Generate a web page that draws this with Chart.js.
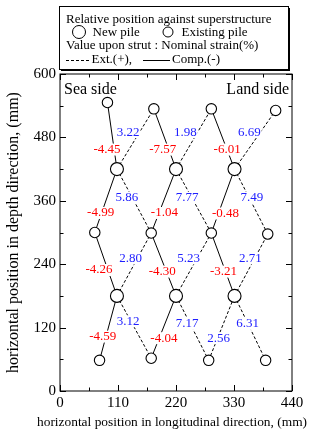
<!DOCTYPE html>
<html>
<head>
<meta charset="utf-8">
<script src="https://cdn.jsdelivr.net/npm/chart.js@4.4.0/dist/chart.umd.min.js"></script>
<style>
  html, body { margin: 0; padding: 0; background: #fff; }
  canvas { display: block; }
</style>
</head>
<body>
<canvas id="chart" width="321" height="432"></canvas>
<script>
const xTicks = [0, 110, 220, 330, 440];
const yTicks = [0, 120, 240, 360, 480, 600];

// piles, row by row from the top; "new" piles are the big circles
const pileX = [90, 178, 287, 409, 108, 220, 331, 66, 173, 287, 394, 108, 220, 331, 75, 173, 282, 390];
const pileY = [546, 534, 534, 531, 420, 420, 420, 300, 299, 299, 297, 180, 180, 180, 58, 62, 58, 58];
const pileKind = [
  "existing", "existing", "existing", "existing",
  "new", "new", "new",
  "existing", "existing", "existing", "existing",
  "new", "new", "new",
  "existing", "existing", "existing", "existing"
];

// struts between piles (index into the pile arrays) and nominal strain (%)
const strutFrom = [0, 4, 1, 5, 2, 6, 4, 4, 8, 5, 9, 6, 7, 11, 8, 12, 9, 13, 11, 11, 15, 12, 16, 13];
const strutTo   = [4, 1, 5, 2, 6, 3, 7, 8, 5, 9, 6, 10, 11, 8, 12, 9, 13, 10, 14, 15, 12, 16, 13, 17];
const strainValues = [
  -4.45, 3.22, -7.57, 1.98, -6.01, 6.69,
  -4.99, 5.86, -1.04, 7.77, -0.48, 7.49,
  -4.26, 2.80, -4.30, 5.23, -3.21, 2.71,
  -4.59, 3.12, -4.04, 7.17, 2.56, 6.31
];
// where each strain value is written, in data units
const strainLabelX = [
  89, 129, 195, 238, 317, 359,
  77, 127, 198, 241, 314, 364,
  74, 134, 194, 244, 310, 361,
  81, 129, 197, 241, 301, 356
];
const strainLabelY = [
  457, 490, 457, 490, 457, 490,
  337, 366, 337, 366, 336, 366,
  229, 251, 226, 251, 226, 251,
  103, 132, 100, 127, 100, 127
];

const serif = "'Liberation Serif', 'Times New Roman', serif";
const RED = "#ff0000";
const BLUE = "#2020ff";
const xTitle = "horizontal position in longitudinal direction, (mm)";
const yTitle = "horizontal position in depth direction, (mm)";

const strutSets = strutFrom.map((f, i) => ({
  data: [
    { x: pileX[f], y: pileY[f] },
    { x: pileX[strutTo[i]], y: pileY[strutTo[i]] }
  ],
  showLine: true,
  borderColor: "#000",
  borderWidth: 1,
  borderDash: strainValues[i] > 0 ? [3, 2] : [],
  pointRadius: 0,
  order: 3
}));

function pilesOf(kind) {
  return pileX
    .map((x, i) => ({ x: x, y: pileY[i], kind: pileKind[i] }))
    .filter(p => p.kind === kind);
}

const pileSets = [
  {
    data: pilesOf("new"),
    pointRadius: 6.5,
    pointBackgroundColor: "#fff",
    pointBorderColor: "#000",
    pointBorderWidth: 1.1,
    order: 1
  },
  {
    data: pilesOf("existing"),
    pointRadius: 5.2,
    pointBackgroundColor: "#fff",
    pointBorderColor: "#000",
    pointBorderWidth: 1.1,
    order: 1
  }
];

// strain values sit on white patches that break the strut lines
const strainLabels = {
  id: "strainLabels",
  beforeDatasetDraw(chart, args) {
    if (args.index !== 0) return;
    const ctx = chart.ctx;
    const xs = chart.scales.x, ys = chart.scales.y;
    ctx.save();
    ctx.font = "13px " + serif;
    ctx.textAlign = "center";
    ctx.textBaseline = "middle";
    strainValues.forEach((v, i) => {
      const px = xs.getPixelForValue(strainLabelX[i]);
      const py = ys.getPixelForValue(strainLabelY[i]);
      const t = v.toFixed(2);
      const w = ctx.measureText(t).width;
      ctx.fillStyle = "#fff";
      ctx.fillRect(px - w / 2 - 1, py - 6, w + 2, 12);
      ctx.fillStyle = v < 0 ? RED : BLUE;
      ctx.fillText(t, px, py);
    });
    ctx.restore();
  }
};

const decor = {
  id: "decor",
  beforeDraw(chart) {
    const ctx = chart.ctx;
    ctx.save();
    ctx.fillStyle = "#fff";
    ctx.fillRect(0, 0, chart.width, chart.height);
    ctx.restore();
  },
  afterDraw(chart) {
    const ctx = chart.ctx;
    const a = chart.chartArea;
    const xs = chart.scales.x, ys = chart.scales.y;
    ctx.save();
    ctx.strokeStyle = "#000";
    ctx.lineWidth = 1;
    ctx.strokeRect(a.left, a.top, a.right - a.left, a.bottom - a.top);

    // inward ticks on all four sides
    ctx.beginPath();
    const xAll = [];
    xTicks.forEach((v, i) => {
      xAll.push([v, 6]);
      if (i < xTicks.length - 1) xAll.push([(v + xTicks[i + 1]) / 2, 3.5]);
    });
    xAll.forEach(([v, len]) => {
      const px = Math.round(xs.getPixelForValue(v)) + 0.5;
      ctx.moveTo(px, a.bottom); ctx.lineTo(px, a.bottom - len);
      ctx.moveTo(px, a.top); ctx.lineTo(px, a.top + len);
    });
    const yAll = [];
    yTicks.forEach((v, i) => {
      yAll.push([v, 6]);
      if (i < yTicks.length - 1) yAll.push([(v + yTicks[i + 1]) / 2, 3.5]);
    });
    yAll.forEach(([v, len]) => {
      const py = Math.round(ys.getPixelForValue(v)) + 0.5;
      ctx.moveTo(a.left, py); ctx.lineTo(a.left + len, py);
      ctx.moveTo(a.right, py); ctx.lineTo(a.right - len, py);
    });
    ctx.stroke();

    // x title, wider than the plot so drawn here
    ctx.fillStyle = "#000";
    ctx.font = "13.4px " + serif;
    ctx.textAlign = "center";
    ctx.textBaseline = "middle";
    ctx.fillText(xTitle, 172, 422);

    // side names
    ctx.font = "16px " + serif;
    ctx.textAlign = "left";
    ctx.fillText("Sea side", a.left + 4, a.top + 16);
    ctx.textAlign = "right";
    ctx.fillText("Land side", a.right - 3, a.top + 16);

    // legend box with drop shadow
    const bx = 59, by = 6, bw = 229, bh = 63;
    ctx.fillRect(bx + 2, by + 2, bw, bh);
    ctx.fillStyle = "#fff";
    ctx.fillRect(bx, by, bw, bh);
    ctx.strokeRect(bx + 0.5, by + 0.5, bw, bh);
    ctx.fillStyle = "#000";
    ctx.font = "13px " + serif;
    ctx.textAlign = "left";
    ctx.fillText("Relative position against superstructure", 66, 19.5);
    ctx.beginPath();
    ctx.arc(79, 32, 6.5, 0, Math.PI * 2);
    ctx.stroke();
    ctx.beginPath();
    ctx.arc(168, 32, 5, 0, Math.PI * 2);
    ctx.stroke();
    ctx.fillText("New pile", 92.5, 33);
    ctx.fillText("Existing pile", 181.5, 33);
    ctx.fillText("Value upon strut : Nominal strain(%)", 66, 46);
    ctx.beginPath();
    ctx.setLineDash([3, 2]);
    ctx.moveTo(66, 60.5); ctx.lineTo(91, 60.5);
    ctx.stroke();
    ctx.setLineDash([]);
    ctx.beginPath();
    ctx.moveTo(143, 60.5); ctx.lineTo(170, 60.5);
    ctx.stroke();
    ctx.fillText("Ext.(+),", 91.5, 60);
    ctx.fillText("Comp.(-)", 172, 60);
    ctx.restore();
  }
};

new Chart(document.getElementById("chart"), {
  type: "scatter",
  data: { datasets: [...pileSets, ...strutSets] },
  options: {
    responsive: false,
    animation: false,
    devicePixelRatio: 1,
    layout: { padding: { top: 74, right: 29, left: 0, bottom: 0 } },
    plugins: { legend: { display: false }, tooltip: { enabled: false } },
    scales: {
      x: {
        type: "linear",
        min: 0,
        max: 440,
        afterBuildTicks: s => { s.ticks = xTicks.map(v => ({ value: v })); },
        afterFit: s => { s.height = 41; },
        grid: { display: false, drawTicks: false },
        border: { display: false },
        ticks: { color: "#000", padding: 3, maxRotation: 0, font: { family: serif, size: 15 } },
        title: { display: false }
      },
      y: {
        type: "linear",
        min: 0,
        max: 600,
        afterBuildTicks: s => { s.ticks = yTicks.map(v => ({ value: v })); },
        afterFit: s => { s.width = 60; },
        grid: { display: false, drawTicks: false },
        border: { display: false },
        ticks: { color: "#000", padding: 4, font: { family: serif, size: 15 } },
        title: {
          display: true,
          text: yTitle,
          color: "#000",
          font: { family: serif, size: 16 },
          padding: { top: 4, bottom: 0 }
        }
      }
    }
  },
  plugins: [strainLabels, decor]
});
</script>
</body>
</html>
